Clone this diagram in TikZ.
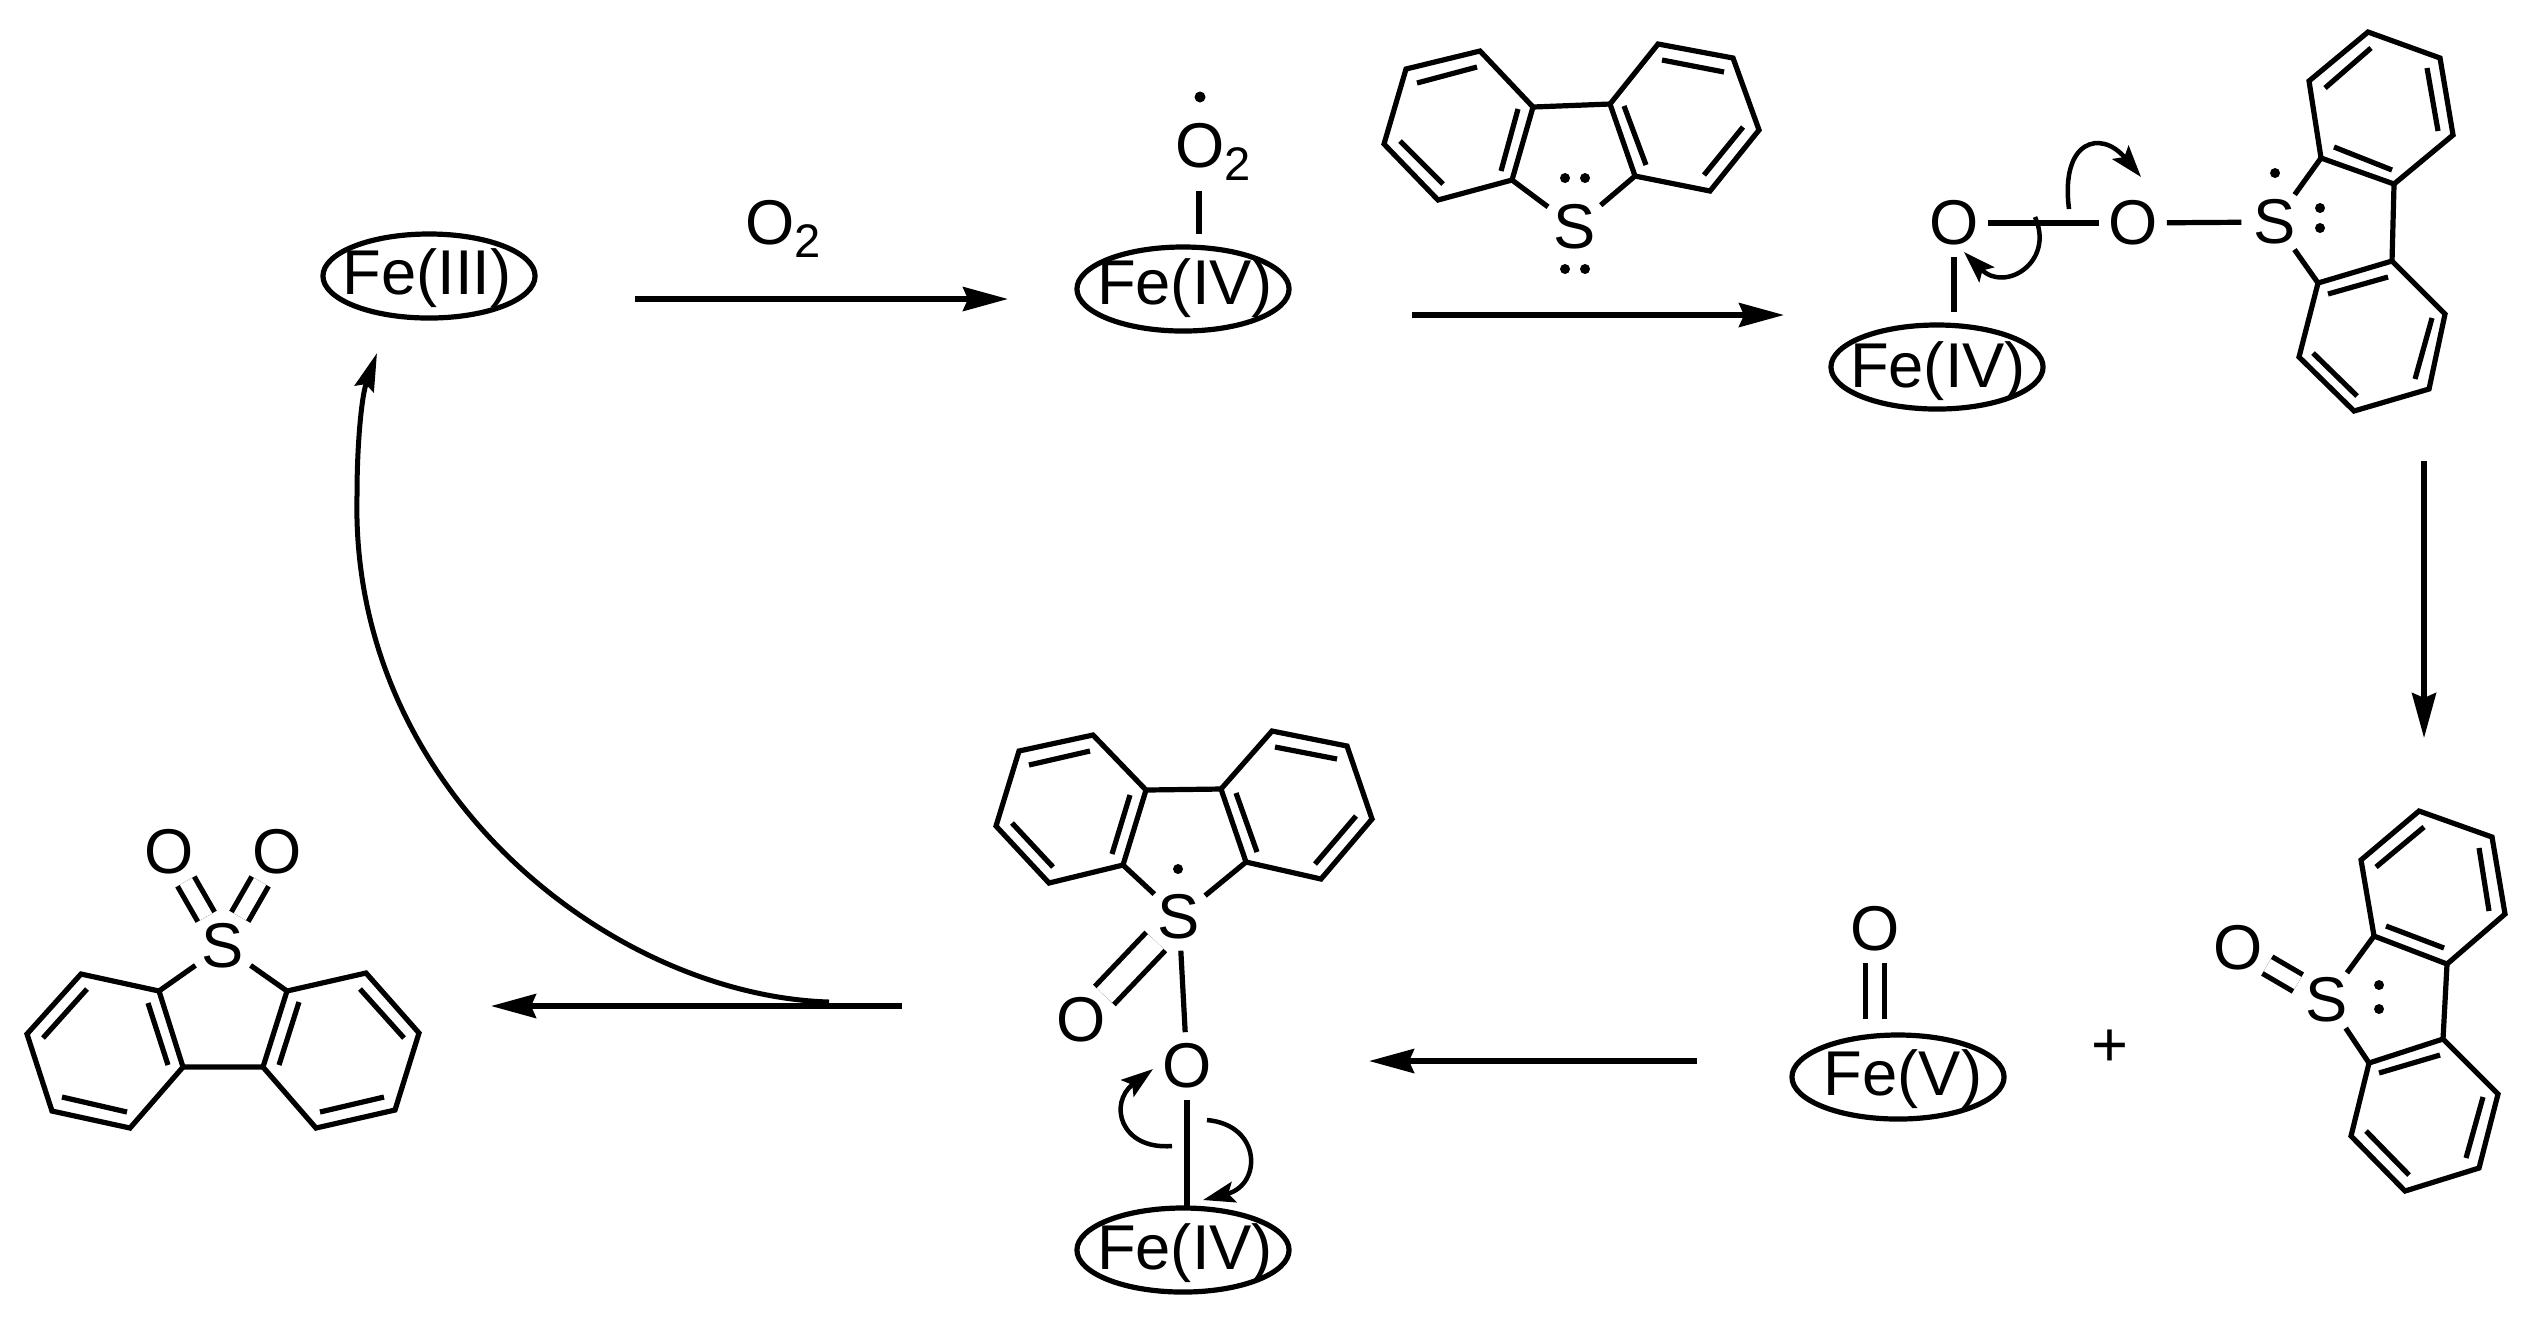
\documentclass[tikz,border=0pt]{standalone}
\usepackage{fontspec}
\setmainfont{Liberation Sans}
\usetikzlibrary{arrows.meta,shapes.geometric}
\newcommand{\subtwo}{\raisebox{-0.13cm}{\fontsize{13.4}{13.4}\selectfont 2}}
\tikzset{
  bond/.style={line width=0.052cm},
  dbond/.style={bond,double,double distance=#1},
  dbond/.default=0.14cm,
  rxn/.style={line width=0.052cm,-{Stealth[length=0.45cm,width=0.24cm,inset=0.05cm]}},
  arcrxn/.style={line width=0.05cm,-{Stealth[length=0.38cm,width=0.2cm,inset=0.05cm]}},
  push/.style={line width=0.045cm,-{Stealth[length=0.32cm,width=0.21cm,inset=0.06cm]}},
  atom/.style={circle,inner sep=0pt,minimum size=0.66cm},
  formula/.style={inner sep=0pt,anchor=base west},
  feoval/.style={ellipse,draw,line width=0.052cm,inner sep=0pt,minimum width=2.12cm,minimum height=0.84cm},
  fetext/.style={inner sep=0pt,anchor=base},
}
\begin{document}
\begin{tikzpicture}[x=0.01cm,y=-0.01cm,font=\fontsize{18}{18}\selectfont]
  \useasboundingbox (0,0) rectangle (2537,1332);

  % iron centres
  \node[feoval] (fea) at (429,276) {};
  \node[fetext] (fealabel) at (427,294) {Fe(III)};
  \node[feoval] (feb) at (1183,289) {};
  \node[fetext] (feblabel) at (1185,304) {Fe(IV)};
  \node[feoval] (fec) at (1937,367) {};
  \node[fetext] (feclabel) at (1938,387) {Fe(IV)};
  \node[feoval] (fed) at (1898,1077) {};
  \node[fetext] (fedlabel) at (1903,1095) {Fe(V)};
  \node[feoval] (fee) at (1183,1250) {};
  \node[fetext] (feelabel) at (1185,1269) {Fe(IV)};

  % reaction arrows
  \path (635,299) coordinate (ra) (1008,299) coordinate (rb)
        (1412,315) coordinate (rc) (1784,315) coordinate (rd)
        (2424,461) coordinate (re) (2424,738) coordinate (rf)
        (1697,1061) coordinate (rg) (1369,1061) coordinate (rh)
        (902,1006) coordinate (ri) (491,1006) coordinate (rj)
        (829,1002) coordinate (rk) (377,353) coordinate (rl);
  \draw[rxn] (ra) -- (rb);
  \draw[rxn] (rc) -- (rd);
  \draw[rxn] (re) -- (rf);
  \draw[rxn] (rg) -- (rh);
  \draw[rxn] (ri) -- (rj);
  \draw[arcrxn] (rk) .. controls (610,995) and (350,790) .. (357,496)
       .. controls (357,440) and (362,395) .. (rl);

  % oxygen on the arrow and on iron
  \node[formula] (otwo) at (745,244) {O\subtwo};
  \node[formula] (otwob) at (1175,167) {O\subtwo};
  \coordinate (otwoc) at (1199,191);
  \draw[bond,shorten >=0.1cm] (otwoc) -- (otwoc |- feb.north);
  \fill (1200,97) circle (5.5);

  % dibenzothiophene, top
  \path (1533,107) coordinate (a1) (1480,51) coordinate (a2) (1406,69) coordinate (a3)
        (1384,144) coordinate (a4) (1438,200) coordinate (a5) (1512,180) coordinate (a6)
        (1610,104) coordinate (a7) (1658,44) coordinate (a8) (1733,58) coordinate (a9)
        (1759,130) coordinate (a10) (1710,191) coordinate (a11) (1635,176) coordinate (a12);
  \node[atom] (sa) at (1575,227) {S};
  \draw[bond] (a1) -- (a2) -- (a3) -- (a4) -- (a5) -- (a6) -- cycle;
  \draw[bond] (a7) -- (a8) -- (a9) -- (a10) -- (a11) -- (a12) -- cycle;
  \draw[bond] (a1) -- (a7) (a6) -- (sa) (a12) -- (sa);
  \draw[bond] (1477,67) -- (1417,83) (1400,141) -- (1443,184) (1518,109) -- (1501,171)
              (1662,60) -- (1724,72) (1743,127) -- (1704,175) (1624,106) -- (1646,165);
  \foreach \p in {(1565,178),(1585,178),(1565,269),(1585,269)} \fill \p circle (5);

  % peroxo adduct
  \node[atom] (ob) at (1954,223) {O};
  \node[atom] (oc) at (2133,223) {O};
  \node[atom] (sb) at (2275,222) {S};
  \draw[bond] (ob) -- (oc);
  \draw[bond] (oc) -- (sb);
  \draw[bond,shorten >=0.1cm] (ob) -- (ob |- fec.north);
  \path (2321,158) coordinate (b1) (2309,81) coordinate (b2) (2368,32) coordinate (b3)
        (2440,58) coordinate (b4) (2453,135) coordinate (b5) (2394,184) coordinate (b6)
        (2392,261) coordinate (b7) (2318,283) coordinate (b8) (2299,357) coordinate (b9)
        (2354,411) coordinate (b10) (2429,389) coordinate (b11) (2445,314) coordinate (b12);
  \draw[bond] (b1) -- (b2) -- (b3) -- (b4) -- (b5) -- (b6) -- cycle;
  \draw[bond] (b7) -- (b8) -- (b9) -- (b10) -- (b11) -- (b12) -- cycle;
  \draw[bond] (b6) -- (b7) (b1) -- (sb) (b8) -- (sb);
  \draw[bond] (2325,88) -- (2371,48) (2427,68) -- (2438,131) (2334,147) -- (2392,170)
              (2328,294) -- (2388,277) (2313,353) -- (2357,396) (2415,379) -- (2432,318);
  \foreach \p in {(2275,173),(2320,208),(2320,228)} \fill \p circle (5);
  \path (2069,209) coordinate (pa) (2141,177) coordinate (pb)
        (2035,217) coordinate (pc) (1964,252) coordinate (pd);
  \draw[push] (pa) .. controls (2060,140) and (2101,129) .. (pb);
  \draw[push] (pc) .. controls (2055,262) and (2005,293) .. (pd);

  % oxo iron and sulfoxide
  \node[atom] (od) at (1875,929) {O};
  \draw[dbond,shorten >=0.13cm] (od) -- (od |- fed.north);
  \node[atom] (plus) at (2110,1048) {+};
  \node[atom] (sc) at (2327,1000) {S};
  \node[atom] (oe) at (2238,948) {O};
  \draw[dbond] (sc) -- (oe);
  \path (2374,936) coordinate (c1) (2361,860) coordinate (c2) (2419,811) coordinate (c3)
        (2492,837) coordinate (c4) (2505,914) coordinate (c5) (2447,964) coordinate (c6)
        (2443,1039) coordinate (c7) (2369,1063) coordinate (c8) (2351,1136) coordinate (c9)
        (2405,1191) coordinate (c10) (2479,1168) coordinate (c11) (2498,1094) coordinate (c12);
  \draw[bond] (c1) -- (c2) -- (c3) -- (c4) -- (c5) -- (c6) -- cycle;
  \draw[bond] (c7) -- (c8) -- (c9) -- (c10) -- (c11) -- (c12) -- cycle;
  \draw[bond] (c6) -- (c7) (c1) -- (sc) (c8) -- (sc);
  \draw[bond] (2376,867) -- (2424,827) (2479,848) -- (2489,911) (2386,926) -- (2444,948)
              (2379,1073) -- (2440,1055) (2366,1131) -- (2409,1175) (2466,1158) -- (2483,1097);
  \foreach \p in {(2379,985),(2379,1009)} \fill \p circle (5);

  % lower intermediate
  \path (1146,790) coordinate (d1) (1093,735) coordinate (d2) (1019,751) coordinate (d3)
        (996,826) coordinate (d4) (1049,883) coordinate (d5) (1123,865) coordinate (d6)
        (1221,789) coordinate (d7) (1272,731) coordinate (d8) (1347,746) coordinate (d9)
        (1372,819) coordinate (d10) (1321,879) coordinate (d11) (1246,862) coordinate (d12);
  \node[atom] (sd) at (1179,917) {S};
  \node[atom] (of) at (1081,1020) {O};
  \node[atom] (og) at (1187,1066) {O};
  \draw[bond] (d1) -- (d2) -- (d3) -- (d4) -- (d5) -- (d6) -- cycle;
  \draw[bond] (d7) -- (d8) -- (d9) -- (d10) -- (d11) -- (d12) -- cycle;
  \draw[bond] (d1) -- (d7) (d6) -- (sd) (d12) -- (sd);
  \draw[bond] (1090,751) -- (1029,765) (1012,823) -- (1053,867) (1130,795) -- (1112,854)
              (1275,747) -- (1337,759) (1356,816) -- (1315,864) (1236,793) -- (1257,852);
  \fill (1178,869) circle (5);
  \draw[dbond=0.21cm] (sd) -- (of);
  \draw[bond] (sd) -- (og);
  \draw[bond,shorten >=-0.05cm] (og) -- (og |- fee.north);
  \path (1172,1146) coordinate (pe) (1153,1069) coordinate (pf)
        (1207,1120) coordinate (pg) (1203,1200) coordinate (ph);
  \draw[push] (pe) .. controls (1120,1150) and (1108,1103) .. (pf);
  \draw[push] (pg) .. controls (1262,1125) and (1262,1185) .. (ph);

  % sulfone
  \node[atom] (se) at (223,946) {S};
  \node[atom] (oh) at (169,852) {O};
  \node[atom] (oi) at (277,852) {O};
  \draw[dbond] (se) -- (oh);
  \draw[dbond] (se) -- (oi);
  \path (159,991) coordinate (e1) (81,974) coordinate (e2) (27,1034) coordinate (e3)
        (52,1111) coordinate (e4) (130,1128) coordinate (e5) (183,1067) coordinate (e6)
        (263,1067) coordinate (e7) (316,1128) coordinate (e8) (395,1110) coordinate (e9)
        (419,1033) coordinate (e10) (366,973) coordinate (e11) (287,991) coordinate (e12);
  \draw[bond] (e1) -- (e2) -- (e3) -- (e4) -- (e5) -- (e6) -- cycle;
  \draw[bond] (e7) -- (e8) -- (e9) -- (e10) -- (e11) -- (e12) -- cycle;
  \draw[bond] (e6) -- (e7) (e1) -- (se) (e12) -- (se);
  \draw[bond] (87,989) -- (43,1038) (62,1097) -- (127,1112) (148,1003) -- (168,1065)
              (299,1002) -- (279,1065) (360,989) -- (404,1038) (320,1112) -- (384,1097);
\end{tikzpicture}
\end{document}
